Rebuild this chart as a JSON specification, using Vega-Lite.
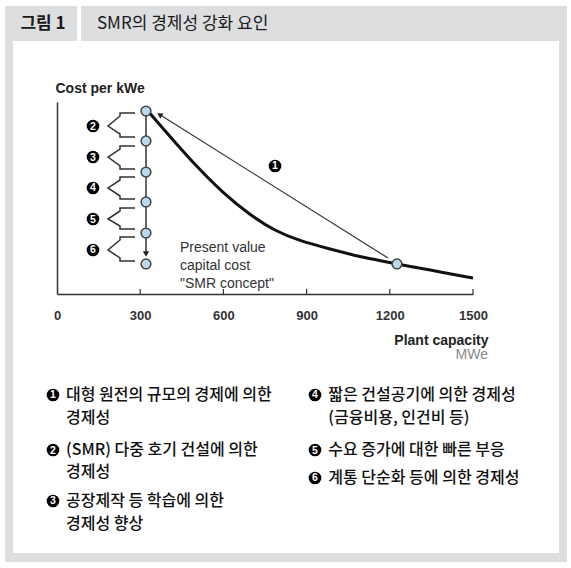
{
  "$schema": "https://vega.github.io/schema/vega-lite/v6.json",
  "width": 416,
  "height": 192,
  "autosize": "none",
  "padding": {"left": 57, "top": 102, "right": 98, "bottom": 274},
  "background": "white",
  "config": {"view": {"stroke": null}},
  "datasets": {
    "one": [{"k": 1}],
    "curve": [
      {"cap": 324.5, "cost": 95.83}, {"cap": 371.4, "cost": 88.02}, {"cap": 418.3, "cost": 80.21},
      {"cap": 504.8, "cost": 66.15}, {"cap": 598.6, "cost": 52.6}, {"cap": 695.9, "cost": 41.15},
      {"cap": 786.1, "cost": 32.81}, {"cap": 876.3, "cost": 27.6}, {"cap": 984.4, "cost": 23.44},
      {"cap": 1092.6, "cost": 19.27}, {"cap": 1226, "cost": 15.63}, {"cap": 1345, "cost": 12.5},
      {"cap": 1500, "cost": 8.33}
    ],
    "ticks": [{"cap": 300}, {"cap": 600}, {"cap": 900}, {"cap": 1200}, {"cap": 1500}],
    "scaleArrow": [{"cap": 1193.5, "cost": 18.75}, {"cap": 372.8, "cost": 93.18}],
    "stackLine": [{"cap": 320.9, "cost": 95.31}, {"cap": 320.9, "cost": 21.9}],
    "nodes": [
      {"cap": 320.9, "cost": 95.31}, {"cap": 320.9, "cost": 79.69}, {"cap": 320.9, "cost": 63.54},
      {"cap": 320.9, "cost": 47.92}, {"cap": 320.9, "cost": 31.77}, {"cap": 320.9, "cost": 15.63},
      {"cap": 1226, "cost": 15.63}
    ],
    "brackets": [
      {"n": 2, "k": 1, "cap": 281.3, "cost": 94.27}, {"n": 2, "k": 2, "cap": 227.2, "cost": 94.27},
      {"n": 2, "k": 3, "cap": 227.2, "cost": 92.71}, {"n": 2, "k": 4, "cap": 183.9, "cost": 87.5},
      {"n": 2, "k": 5, "cap": 227.2, "cost": 83.33}, {"n": 2, "k": 6, "cap": 227.2, "cost": 81.77},
      {"n": 2, "k": 7, "cap": 281.3, "cost": 81.77},
      {"n": 3, "k": 1, "cap": 281.3, "cost": 77.08}, {"n": 3, "k": 2, "cap": 227.2, "cost": 77.08},
      {"n": 3, "k": 3, "cap": 227.2, "cost": 75.52}, {"n": 3, "k": 4, "cap": 183.9, "cost": 71.35},
      {"n": 3, "k": 5, "cap": 227.2, "cost": 66.67}, {"n": 3, "k": 6, "cap": 227.2, "cost": 65.1},
      {"n": 3, "k": 7, "cap": 281.3, "cost": 65.1},
      {"n": 4, "k": 1, "cap": 281.3, "cost": 60.94}, {"n": 4, "k": 2, "cap": 227.2, "cost": 60.94},
      {"n": 4, "k": 3, "cap": 227.2, "cost": 59.38}, {"n": 4, "k": 4, "cap": 183.9, "cost": 55.21},
      {"n": 4, "k": 5, "cap": 227.2, "cost": 51.04}, {"n": 4, "k": 6, "cap": 227.2, "cost": 49.48},
      {"n": 4, "k": 7, "cap": 281.3, "cost": 49.48},
      {"n": 5, "k": 1, "cap": 281.3, "cost": 44.79}, {"n": 5, "k": 2, "cap": 227.2, "cost": 44.79},
      {"n": 5, "k": 3, "cap": 227.2, "cost": 43.23}, {"n": 5, "k": 4, "cap": 183.9, "cost": 39.06},
      {"n": 5, "k": 5, "cap": 227.2, "cost": 35.42}, {"n": 5, "k": 6, "cap": 227.2, "cost": 33.85},
      {"n": 5, "k": 7, "cap": 281.3, "cost": 33.85},
      {"n": 6, "k": 1, "cap": 281.3, "cost": 29.69}, {"n": 6, "k": 2, "cap": 227.2, "cost": 29.69},
      {"n": 6, "k": 3, "cap": 227.2, "cost": 28.13}, {"n": 6, "k": 4, "cap": 183.9, "cost": 22.92},
      {"n": 6, "k": 5, "cap": 227.2, "cost": 18.75}, {"n": 6, "k": 6, "cap": 227.2, "cost": 17.19},
      {"n": 6, "k": 7, "cap": 281.3, "cost": 17.19}
    ],
    "badges": [
      {"n": "1", "cap": 786.1, "cost": 66.67}, {"n": "2", "cap": 129.8, "cost": 87.5},
      {"n": "3", "cap": 129.8, "cost": 71.35}, {"n": "4", "cap": 129.8, "cost": 55.21},
      {"n": "5", "cap": 129.8, "cost": 39.06}, {"n": "6", "cap": 129.8, "cost": 22.92},
      {"n": "1", "cap": -14.4, "cost": -52.6}, {"n": "2", "cap": -14.4, "cost": -81.25},
      {"n": "3", "cap": -14.4, "cost": -107.81}, {"n": "4", "cap": 930.3, "cost": -52.6},
      {"n": "5", "cap": 930.3, "cost": -81.25}, {"n": "6", "cap": 930.3, "cost": -95.83}
    ],
    "legend": [
      {"label": "대형 원전의 규모의 경제에 의한", "cap": 32.5, "cost": -52.6},
      {"label": "경제성", "cap": 32.5, "cost": -64.58},
      {"label": "(SMR) 다중 호기 건설에 의한", "cap": 32.5, "cost": -81.25},
      {"label": "경제성", "cap": 32.5, "cost": -92.71},
      {"label": "공장제작 등 학습에 의한", "cap": 32.5, "cost": -107.81},
      {"label": "경제성 향상", "cap": 32.5, "cost": -119.79},
      {"label": "짧은 건설공기에 의한 경제성", "cap": 978.3, "cost": -52.6},
      {"label": "(금융비용, 인건비 등)", "cap": 978.3, "cost": -64.58},
      {"label": "수요 증가에 대한 빠른 부응", "cap": 978.3, "cost": -81.25},
      {"label": "계통 단순화 등에 의한 경제성", "cap": 978.3, "cost": -95.83}
    ]
  },
  "data": {"name": "one"},
  "layer": [
    {
      "mark": {"type": "rect", "color": "#dddee0"},
      "encoding": {
        "x": {"datum": -187.5, "type": "quantitative"}, "x2": {"datum": 1839},
        "y": {"datum": 150, "type": "quantitative"}, "y2": {"datum": -139.58}
      }
    },
    {
      "mark": {"type": "rect", "color": "#ffffff"},
      "encoding": {
        "x": {"datum": -158.7, "type": "quantitative"}, "x2": {"datum": 1810.1},
        "y": {"datum": 131.77, "type": "quantitative"}, "y2": {"datum": -134.9}
      }
    },
    {
      "mark": {"type": "rect", "color": "#ffffff"},
      "encoding": {
        "x": {"datum": 72.1, "type": "quantitative"}, "x2": {"datum": 86.5},
        "y": {"datum": 150, "type": "quantitative"}, "y2": {"datum": 131.77}
      }
    },
    {
      "mark": {"type": "text", "text": "그림 1", "font": "Noto Sans CJK KR", "fontSize": 17, "fontWeight": "bold", "color": "#1a1a1a", "align": "center", "baseline": "middle"},
      "encoding": {"x": {"datum": -50.5, "type": "quantitative"}, "y": {"datum": 140.6, "type": "quantitative"}}
    },
    {
      "mark": {"type": "text", "text": "SMR의 경제성 강화 요인", "font": "Noto Sans CJK KR", "fontSize": 17, "color": "#1a1a1a", "align": "left", "baseline": "middle"},
      "encoding": {"x": {"datum": 144.2, "type": "quantitative"}, "y": {"datum": 140.6, "type": "quantitative"}}
    },
    {
      "data": {"name": "curve"},
      "mark": {"type": "line", "color": "#111", "strokeWidth": 3, "interpolate": "basis"},
      "encoding": {
        "x": {
          "field": "cap", "type": "quantitative",
          "scale": {"domain": [0, 1500], "nice": false, "zero": false},
          "axis": {
            "title": "Plant capacity", "values": [0, 300, 600, 900, 1200, 1500], "format": "d",
            "grid": false, "labelFlush": false, "zindex": 1, "ticks": false,
            "domainColor": "#333", "domainWidth": 1.5,
            "labelFont": "Liberation Sans", "labelFontSize": 13, "labelFontWeight": "bold",
            "labelColor": "#333", "labelPadding": 21, "labelBaseline": "middle",
            "titleFont": "Liberation Sans", "titleFontSize": 14, "titleFontWeight": "bold",
            "titleColor": "#222", "titleX": 431, "titleY": 46, "titleAlign": "right",
            "titleBaseline": "middle"
          }
        },
        "y": {
          "field": "cost", "type": "quantitative",
          "scale": {"domain": [0, 100], "nice": false, "zero": false},
          "axis": {
            "title": "Cost per kWe", "labels": false, "ticks": false, "grid": false, "zindex": 1,
            "domainColor": "#333", "domainWidth": 1.5,
            "titleAngle": 0, "titleX": -2, "titleY": -14, "titleAlign": "left",
            "titleBaseline": "middle", "titleFont": "Liberation Sans", "titleFontSize": 14,
            "titleFontWeight": "bold", "titleColor": "#222"
          }
        }
      }
    },
    {
      "data": {"name": "ticks"},
      "mark": {"type": "rule", "color": "#333", "strokeWidth": 1.2},
      "encoding": {
        "x": {"field": "cap", "type": "quantitative"},
        "y": {"datum": 0, "type": "quantitative"}, "y2": {"datum": 2.6}
      }
    },
    {
      "data": {"name": "scaleArrow"},
      "mark": {"type": "line", "color": "#333", "strokeWidth": 1.2},
      "encoding": {
        "x": {"field": "cap", "type": "quantitative"},
        "y": {"field": "cost", "type": "quantitative"}
      }
    },
    {
      "mark": {"type": "point", "shape": "triangle", "angle": 302, "filled": true, "color": "#222", "size": 40, "opacity": 1},
      "encoding": {"x": {"datum": 372.8, "type": "quantitative"}, "y": {"datum": 93.18, "type": "quantitative"}}
    },
    {
      "data": {"name": "stackLine"},
      "mark": {"type": "line", "color": "#333", "strokeWidth": 1.5},
      "encoding": {
        "x": {"field": "cap", "type": "quantitative"},
        "y": {"field": "cost", "type": "quantitative"}
      }
    },
    {
      "mark": {"type": "point", "shape": "triangle-down", "filled": true, "color": "#222", "size": 40, "opacity": 1},
      "encoding": {"x": {"datum": 320.9, "type": "quantitative"}, "y": {"datum": 20.83, "type": "quantitative"}}
    },
    {
      "data": {"name": "brackets"},
      "mark": {"type": "line", "color": "#333", "strokeWidth": 1.5},
      "encoding": {
        "x": {"field": "cap", "type": "quantitative"},
        "y": {"field": "cost", "type": "quantitative"},
        "detail": {"field": "n", "type": "nominal"},
        "order": {"field": "k", "type": "quantitative"}
      }
    },
    {
      "data": {"name": "nodes"},
      "mark": {"type": "point", "shape": "circle", "filled": true, "fill": "#b8d9f0", "stroke": "#444", "strokeWidth": 1.5, "size": 95, "opacity": 1},
      "encoding": {
        "x": {"field": "cap", "type": "quantitative"},
        "y": {"field": "cost", "type": "quantitative"}
      }
    },
    {
      "data": {"name": "badges"},
      "mark": {"type": "point", "shape": "circle", "filled": true, "color": "#000", "size": 160, "opacity": 1},
      "encoding": {
        "x": {"field": "cap", "type": "quantitative"},
        "y": {"field": "cost", "type": "quantitative"}
      }
    },
    {
      "data": {"name": "badges"},
      "mark": {"type": "text", "font": "Liberation Sans", "fontSize": 10.5, "fontWeight": "bold", "color": "#fff", "align": "center", "baseline": "middle", "dy": 0.5},
      "encoding": {
        "x": {"field": "cap", "type": "quantitative"},
        "y": {"field": "cost", "type": "quantitative"},
        "text": {"field": "n"}
      }
    },
    {
      "mark": {"type": "text", "text": ["Present value", "capital cost", "\"SMR concept\""], "font": "Liberation Sans", "fontSize": 14, "lineHeight": 18, "color": "#333", "align": "left", "baseline": "middle"},
      "encoding": {"x": {"datum": 443.5, "type": "quantitative"}, "y": {"datum": 23.96, "type": "quantitative"}}
    },
    {
      "mark": {"type": "text", "text": "MWe", "font": "Liberation Sans", "fontSize": 14, "color": "#888", "align": "right", "baseline": "middle"},
      "encoding": {"x": {"datum": 1554.1, "type": "quantitative"}, "y": {"datum": -31.77, "type": "quantitative"}}
    },
    {
      "data": {"name": "legend"},
      "mark": {"type": "text", "font": "Noto Sans CJK KR", "fontSize": 16, "fontWeight": 500, "color": "#111", "align": "left", "baseline": "middle"},
      "encoding": {
        "x": {"field": "cap", "type": "quantitative"},
        "y": {"field": "cost", "type": "quantitative"},
        "text": {"field": "label"}
      }
    }
  ]
}
